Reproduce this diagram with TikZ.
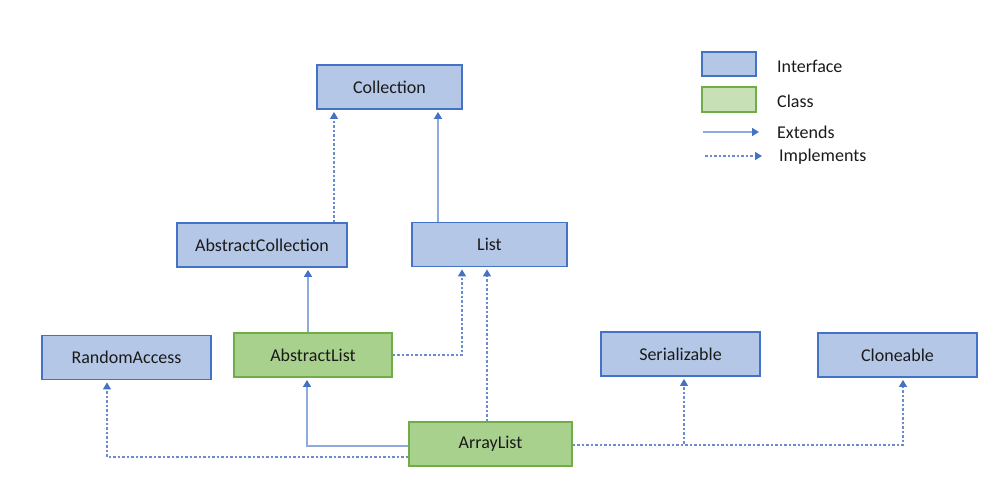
\documentclass[tikz,border=0pt]{standalone}
\usepackage{fontspec}
\setmainfont{Carlito}
\usetikzlibrary{arrows.meta}
\definecolor{ifill}{HTML}{B4C7E7}
\definecolor{iline}{HTML}{4472C4}
\definecolor{cfill}{HTML}{A9D18E}
\definecolor{cline}{HTML}{70AD47}
\definecolor{lfill}{HTML}{C7E0B6}
\definecolor{solidc}{HTML}{8FAADC}
\definecolor{dashc}{HTML}{6A8DD2}
\definecolor{txt}{HTML}{1A1A1A}
\begin{document}
\begin{tikzpicture}[x=1pt,y=-1pt,
  font=\fontsize{18}{21}\selectfont, text=txt,
  box/.style={draw, line width=1.8pt, minimum height=44pt, inner sep=0pt},
  intf/.style={box, fill=ifill, draw=iline},
  cls/.style={box, fill=cfill, draw=cline},
  ext/.style={draw=solidc, line width=1.5pt, -{Triangle[length=7pt,width=8pt,fill=iline,color=iline]}, shorten >=2pt},
  impl/.style={draw=dashc, line width=1.1pt, dash pattern=on 2.5pt off 2pt, -{Triangle[length=7pt,width=8pt,fill=iline,color=iline]}, shorten >=2pt}]
  \useasboundingbox (0,0) rectangle (999,485);
  % boxes
  \node[intf, minimum width=145pt] (col) at (389.5,87) {Collection};
  \node[intf, minimum width=170pt] (ac) at (262,245) {AbstractCollection};
  \node[intf, minimum width=155pt] (list) at (489.5,244.5) {List};
  \node[intf, minimum width=169pt] (ra) at (126.5,357.5) {RandomAccess};
  \node[cls, minimum width=158pt] (al) at (313,355) {AbstractList};
  \node[cls, minimum width=163pt] (arl) at (490.5,444) {ArrayList};
  \node[intf, minimum width=159pt] (ser) at (680.5,354) {Serializable};
  \node[intf, minimum width=159pt] (clo) at (897.5,355) {Cloneable};
  % legend
  \node[intf, minimum width=54pt, minimum height=24pt] (lint) at (729,64) {};
  \node[box, fill=lfill, draw=cline, minimum width=54pt, minimum height=25pt] (lcls) at (729,99.5) {};
  \node[anchor=west, inner sep=0pt] (tint) at (777,66) {Interface};
  \node[anchor=west, inner sep=0pt] (tcls) at (777,101) {Class};
  \node[anchor=west, inner sep=0pt] (text) at (777,132) {Extends};
  \node[anchor=west, inner sep=0pt] (timp) at (779,157) {Implements};
  \coordinate (e1) at (703,132);
  \coordinate (e2) at (759,132);
  \coordinate (i1) at (705,156);
  \coordinate (i2) at (762,156);
  \draw[ext, shorten >=0pt] (e1) -- (e2);
  \draw[impl, shorten >=0pt] (i1) -- (i2);
  % connectors
  \draw[impl] ([xshift=72pt]ac.north) -- ([xshift=-55.5pt]col.south);
  \draw[ext] ([xshift=-51.5pt]list.north) -- ([xshift=48.5pt]col.south);
  \draw[ext] ([xshift=-5pt]al.north) -- ([xshift=46pt]ac.south);
  \draw[impl] (al.east) -| ([xshift=-27.5pt]list.south);
  \draw[impl] ([xshift=-3.5pt]arl.north) -- ([xshift=-2.5pt]list.south);
  \draw[ext] ([yshift=-2pt]arl.west) -| ([xshift=-6pt]al.south);
  \draw[impl] ([yshift=-13pt]arl.west) -| ([xshift=-19.5pt]ra.south);
  \draw[impl] ([yshift=-1pt]arl.east) -| ([xshift=3.5pt]ser.south);
  \draw[impl] ([yshift=-1pt]arl.east) -| ([xshift=5.5pt]clo.south);
\end{tikzpicture}
\end{document}
